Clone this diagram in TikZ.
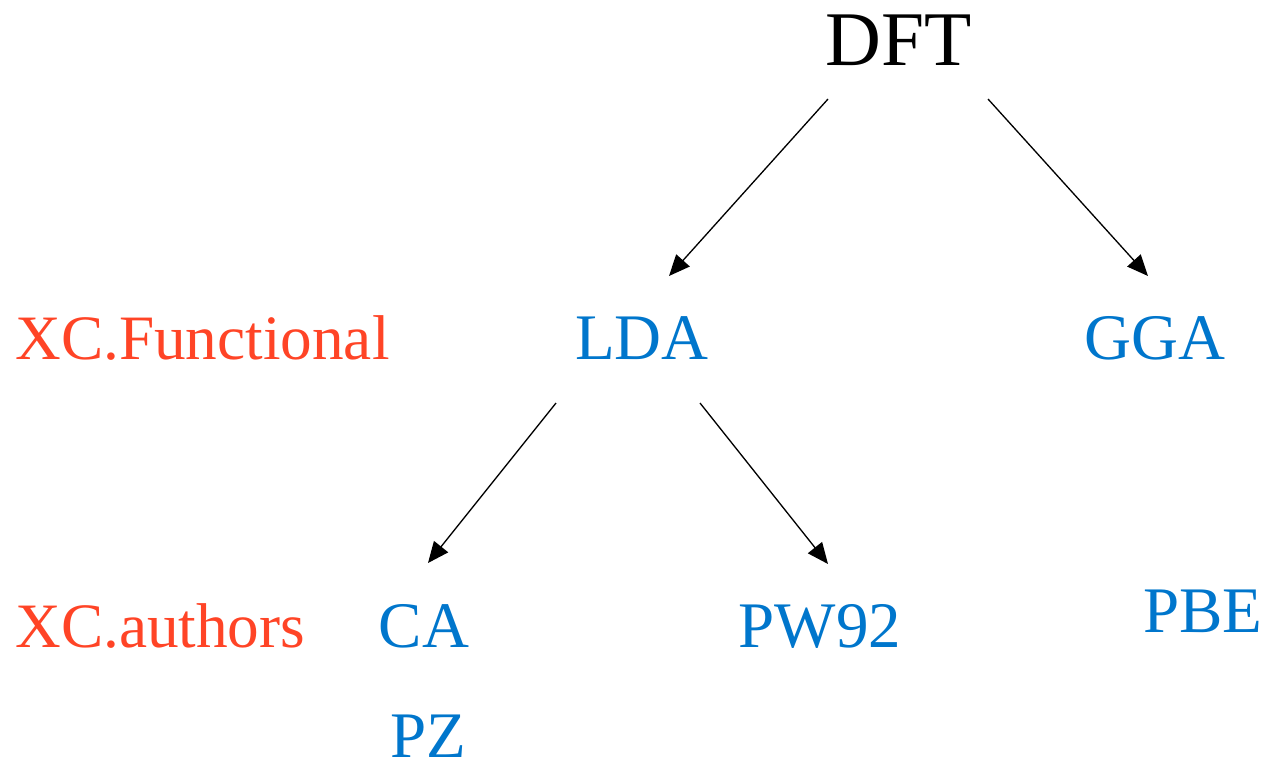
\documentclass[tikz,border=0pt]{standalone}
\usepackage{fontspec}
\setmainfont{Liberation Serif}
\usetikzlibrary{arrows.meta,calc}
\definecolor{xcred}{RGB}{255,68,38}
\definecolor{xcblue}{RGB}{0,118,204}

\begin{document}
\begin{tikzpicture}[x=0.02cm,y=-0.02cm,
    top/.style={inner sep=0pt, anchor=base, font=\fontsize{44}{48}\selectfont},
    kind/.style={inner sep=0pt, anchor=base, text=xcblue, font=\fontsize{37}{40}\selectfont},
    tag/.style={inner sep=0pt, anchor=base west, text=xcred, font=\fontsize{36}{40}\selectfont},
    >={Triangle[length=0.42cm,width=0.36cm]}]
  \useasboundingbox (0,0) rectangle (1265,765);
  \node [top] (dft) at (899,65) {DFT};
  \node [tag] (xcfunc) at (15,359) {XC.Functional};
  \node [kind] (lda) at (642,359) {LDA};
  \node [kind] (gga) at (1155,359) {GGA};
  \node [tag] (xcauth) at (15,647) {XC.authors};
  \node [kind] (ca) at (424,647) {CA};
  \node [kind] (pw92) at (820,647) {PW92};
  \node [kind] (pbe) at (1203,632) {PBE};
  \node [kind] (pz) at (428,757) {PZ};
    \path[->, line width=0.75pt]
    ($(dft.base)+(-71,34)$) edge ($(lda.base)+(27,-83)$)
    ($(dft.base)+(89,34)$) edge ($(gga.base)+(-7,-83)$)
    ($(lda.base)+(-86,44)$) edge ($(ca.base)+(4,-84)$)
    ($(lda.base)+(58,44)$) edge ($(pw92.base)+(8,-83)$);
\end{tikzpicture}
\end{document}
